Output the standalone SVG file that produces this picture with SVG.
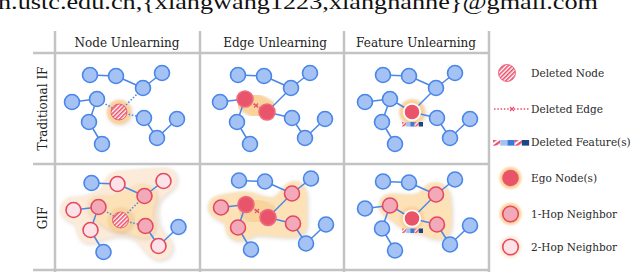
<svg xmlns="http://www.w3.org/2000/svg" width="640" height="276" viewBox="0 0 640 276">
<style>
.grid{stroke:#c3c3c3;stroke-width:2.5;fill:none}
.hdr{font-family:"DejaVu Serif",serif;font-size:12px;fill:#222;text-anchor:middle}
.lg{font-family:"DejaVu Serif",serif;font-size:10.5px;fill:#2a2a2a}
.e{stroke:#4a86e8;stroke-width:1.5;fill:none}
.ed{stroke:#4a86e8;stroke-width:1.5;stroke-dasharray:1.5 1.8;fill:none}
.er{stroke:#ea4f6a;stroke-width:1.5;stroke-dasharray:1.5 1.8;fill:none}
.ex{stroke:#ea4f6a;stroke-width:1.1;fill:none}
.nb{fill:#a4c2f4;stroke:#4a86e8;stroke-width:1.6}
.ne{fill:#e9546b;stroke:#ee6a80;stroke-width:1.6}
.new{fill:#e9546b;stroke:#ffffff;stroke-width:1.8}
.n1{fill:#f3aab8;stroke:#e44862;stroke-width:1.6}
.n2{fill:#fde3e8;stroke:#e44862;stroke-width:1.6}
.nd{fill:url(#hatch);stroke:#ea4f6a;stroke-width:0.8}
.halo{fill:#fad39a}
.blob1{fill:#fde2b8}
.blob2{fill:#fdebd9}
</style>
<defs>
<pattern id="hatch" width="3" height="3" patternUnits="userSpaceOnUse" patternTransform="rotate(45)">
<rect width="3" height="3" fill="#ffffff"/><rect width="1.6" height="3" fill="#ea4f6a"/>
</pattern>
<filter id="soft" x="-30%" y="-30%" width="160%" height="160%">
<feGaussianBlur in="SourceAlpha" stdDeviation="2"/>
<feOffset dx="0.8" dy="1.2" result="b"/>
<feFlood flood-color="#8a7a6a" flood-opacity="0.35"/>
<feComposite in2="b" operator="in" result="sh"/>
<feGaussianBlur in="SourceGraphic" stdDeviation="0.8" result="s"/>
<feMerge><feMergeNode in="sh"/><feMergeNode in="s"/></feMerge>
</filter>
<filter id="glow" x="-40%" y="-40%" width="180%" height="180%">
<feGaussianBlur stdDeviation="0.9"/>
</filter>
<g id="fbar">
<rect x="0" y="0" width="4.2" height="4.5" fill="url(#hatch)"/>
<rect x="4.2" y="0" width="4.2" height="4.5" fill="#a4c2f4"/>
<rect x="8.4" y="0" width="4.2" height="4.5" fill="#3c78d8"/>
<rect x="12.6" y="0" width="4.2" height="4.5" fill="url(#hatch)"/>
<rect x="16.8" y="0" width="4.2" height="4.5" fill="#1c4587"/>
</g>
</defs>

<text x="-2" y="9" font-family="Liberation Serif,serif" font-size="21" fill="#111" textLength="600" lengthAdjust="spacingAndGlyphs">n.ustc.edu.cn,{xiangwang1223,xiangnanhe}@gmail.com</text>

<g id="grid">
<line class="grid" x1="33" y1="53" x2="489" y2="53"/>
<line class="grid" x1="33" y1="164" x2="489" y2="164"/>
<line class="grid" x1="33" y1="270" x2="489" y2="270"/>
<line class="grid" x1="55" y1="31" x2="55" y2="272"/>
<line class="grid" x1="200" y1="31" x2="200" y2="272"/>
<line class="grid" x1="344" y1="31" x2="344" y2="272"/>
<line class="grid" x1="489" y1="31" x2="489" y2="272"/>
</g>

<g id="headers">
<text class="hdr" x="127" y="47">Node Unlearning</text>
<text class="hdr" x="275" y="47">Edge Unlearning</text>
<text class="hdr" x="416" y="47">Feature Unlearning</text>
<text class="hdr" transform="translate(46.5,108.5) rotate(-90)">Traditional IF</text>
<text class="hdr" transform="translate(46.5,218) rotate(-90)">GIF</text>
</g>

<!-- Top-left: Traditional IF, node unlearning -->
<g id="tl" transform="translate(0,0)">
<circle cx="119" cy="112" r="12" class="halo" filter="url(#soft)"/>
<g id="tl-connectors">
<line class="e" x1="90" y1="75" x2="116" y2="76"/>
<line class="e" x1="116" y1="76" x2="143" y2="88"/>
<line class="e" x1="143" y1="88" x2="162" y2="73"/>
<line class="e" x1="72" y1="102" x2="97" y2="99"/>
<line class="e" x1="97" y1="99" x2="89" y2="122"/>
<line class="e" x1="89" y1="122" x2="102" y2="144"/>
<line class="e" x1="144" y1="118" x2="157" y2="138"/>
<line class="e" x1="157" y1="138" x2="177" y2="119"/>
<line class="ed" x1="97" y1="99" x2="119" y2="112"/>
<line class="ed" x1="119" y1="112" x2="143" y2="88"/>
<line class="ed" x1="119" y1="112" x2="144" y2="118"/>
</g>
<g id="tl-n1"><circle class="nb" cx="90" cy="75" r="7.5"/></g>
<g id="tl-n2"><circle class="nb" cx="116" cy="76" r="7.5"/></g>
<g id="tl-n3"><circle class="nb" cx="162" cy="73" r="7.5"/></g>
<g id="tl-n4"><circle class="nb" cx="143" cy="88" r="7.5"/></g>
<g id="tl-n5"><circle class="nb" cx="72" cy="102" r="7.5"/></g>
<g id="tl-n6"><circle class="nb" cx="97" cy="99" r="7.5"/></g>
<g id="tl-n7"><circle class="nd" cx="119" cy="112" r="8"/></g>
<g id="tl-n8"><circle class="nb" cx="144" cy="118" r="7.5"/></g>
<g id="tl-n9"><circle class="nb" cx="89" cy="122" r="7.5"/></g>
<g id="tl-n10"><circle class="nb" cx="177" cy="119" r="7.5"/></g>
<g id="tl-n11"><circle class="nb" cx="157" cy="138" r="7.5"/></g>
<g id="tl-n12"><circle class="nb" cx="102" cy="144" r="7.5"/></g>
</g>

<!-- Top-middle: Traditional IF, edge unlearning -->
<g id="tm" transform="translate(148,0)">
<line x1="97" y1="99" x2="119" y2="112" stroke="#fad39a" stroke-width="23" stroke-linecap="round" filter="url(#soft)"/>
<g id="tm-connectors">
<line class="e" x1="90" y1="75" x2="116" y2="76"/>
<line class="e" x1="116" y1="76" x2="143" y2="88"/>
<line class="e" x1="143" y1="88" x2="162" y2="73"/>
<line class="e" x1="72" y1="102" x2="97" y2="99"/>
<line class="e" x1="97" y1="99" x2="89" y2="122"/>
<line class="e" x1="89" y1="122" x2="102" y2="144"/>
<line class="e" x1="144" y1="118" x2="157" y2="138"/>
<line class="e" x1="157" y1="138" x2="177" y2="119"/>
<line class="e" x1="119" y1="112" x2="143" y2="88"/>
<line class="e" x1="119" y1="112" x2="144" y2="118"/>
<line class="er" x1="97" y1="99" x2="119" y2="112"/>
<path class="ex" d="M106 103.5L110 107.5M110 103.5L106 107.5"/>
</g>
<g id="tm-n1"><circle class="nb" cx="90" cy="75" r="7.5"/></g>
<g id="tm-n2"><circle class="nb" cx="116" cy="76" r="7.5"/></g>
<g id="tm-n3"><circle class="nb" cx="162" cy="73" r="7.5"/></g>
<g id="tm-n4"><circle class="nb" cx="143" cy="88" r="7.5"/></g>
<g id="tm-n5"><circle class="nb" cx="72" cy="102" r="7.5"/></g>
<g id="tm-n6"><circle class="ne" cx="97" cy="99" r="8"/></g>
<g id="tm-n7"><circle class="ne" cx="119" cy="112" r="8"/></g>
<g id="tm-n8"><circle class="nb" cx="144" cy="118" r="7.5"/></g>
<g id="tm-n9"><circle class="nb" cx="89" cy="122" r="7.5"/></g>
<g id="tm-n10"><circle class="nb" cx="177" cy="119" r="7.5"/></g>
<g id="tm-n11"><circle class="nb" cx="157" cy="138" r="7.5"/></g>
<g id="tm-n12"><circle class="nb" cx="102" cy="144" r="7.5"/></g>
</g>

<!-- Top-right: Traditional IF, feature unlearning -->
<g id="tr" transform="translate(293,0)">
<circle cx="119" cy="112" r="12.5" class="halo" filter="url(#soft)"/>
<g id="tr-connectors">
<line class="e" x1="90" y1="75" x2="116" y2="76"/>
<line class="e" x1="116" y1="76" x2="143" y2="88"/>
<line class="e" x1="143" y1="88" x2="162" y2="73"/>
<line class="e" x1="72" y1="102" x2="97" y2="99"/>
<line class="e" x1="97" y1="99" x2="89" y2="122"/>
<line class="e" x1="89" y1="122" x2="102" y2="144"/>
<line class="e" x1="144" y1="118" x2="157" y2="138"/>
<line class="e" x1="157" y1="138" x2="177" y2="119"/>
<line class="e" x1="97" y1="99" x2="119" y2="112"/>
<line class="e" x1="119" y1="112" x2="143" y2="88"/>
<line class="e" x1="119" y1="112" x2="144" y2="118"/>
</g>
<g id="tr-n1"><circle class="nb" cx="90" cy="75" r="7.5"/></g>
<g id="tr-n2"><circle class="nb" cx="116" cy="76" r="7.5"/></g>
<g id="tr-n3"><circle class="nb" cx="162" cy="73" r="7.5"/></g>
<g id="tr-n4"><circle class="nb" cx="143" cy="88" r="7.5"/></g>
<g id="tr-n5"><circle class="nb" cx="72" cy="102" r="7.5"/></g>
<g id="tr-n6"><circle class="nb" cx="97" cy="99" r="7.5"/></g>
<g id="tr-n7"><circle class="new" cx="119" cy="112" r="8.2"/><use href="#fbar" x="109" y="122"/></g>
<g id="tr-n8"><circle class="nb" cx="144" cy="118" r="7.5"/></g>
<g id="tr-n9"><circle class="nb" cx="89" cy="122" r="7.5"/></g>
<g id="tr-n10"><circle class="nb" cx="177" cy="119" r="7.5"/></g>
<g id="tr-n11"><circle class="nb" cx="157" cy="138" r="7.5"/></g>
<g id="tr-n12"><circle class="nb" cx="102" cy="144" r="7.5"/></g>
</g>

<!-- Bottom-left: GIF, node unlearning -->
<g id="bl" transform="translate(1.5,108)">
<path class="blob2" filter="url(#soft)" d="M59 102C59 94 65 89 72 89C82 89 90 86 100 80C104 68 110 63 118 63C130 63 145 60 162 60C171 60 176 66 175 74C174 82 162 86 158 94C155 102 156 112 160 122C165 128 171 132 171 139C171 148 164 152 157 152C148 152 142 140 134 132C125 126 110 128 100 132C94 136 88 136 82 134C75 130 76 120 72 115C64 113 59 108 59 102Z"/>
<path class="blob1" filter="url(#soft)" d="M86 99C86 91 92 87 99 88C110 90 122 84 134 78C144 74 155 80 155 88C155 96 150 102 152 110C156 120 152 130 143 130C134 130 128 124 118 124C108 124 86 110 86 99Z"/>
<circle cx="119" cy="112" r="12" class="halo" filter="url(#soft)"/>
<g id="bl-connectors">
<line class="e" x1="90" y1="75" x2="116" y2="76"/>
<line class="e" x1="116" y1="76" x2="143" y2="88"/>
<line class="e" x1="143" y1="88" x2="162" y2="73"/>
<line class="e" x1="72" y1="102" x2="97" y2="99"/>
<line class="e" x1="97" y1="99" x2="89" y2="122"/>
<line class="e" x1="89" y1="122" x2="102" y2="144"/>
<line class="e" x1="144" y1="118" x2="157" y2="138"/>
<line class="e" x1="157" y1="138" x2="177" y2="119"/>
<line class="ed" x1="97" y1="99" x2="119" y2="112"/>
<line class="ed" x1="119" y1="112" x2="143" y2="88"/>
<line class="ed" x1="119" y1="112" x2="144" y2="118"/>
</g>
<g id="bl-n1"><circle class="nb" cx="90" cy="75" r="7.5"/></g>
<g id="bl-n2"><circle class="n2" cx="116" cy="76" r="7.5"/></g>
<g id="bl-n3"><circle class="n2" cx="162" cy="73" r="7.5"/></g>
<g id="bl-n4"><circle class="n1" cx="143" cy="88" r="7.5"/></g>
<g id="bl-n5"><circle class="n2" cx="72" cy="102" r="7.5"/></g>
<g id="bl-n6"><circle class="n1" cx="97" cy="99" r="7.5"/></g>
<g id="bl-n7"><circle class="nd" cx="119" cy="112" r="8"/></g>
<g id="bl-n8"><circle class="n1" cx="144" cy="118" r="7.5"/></g>
<g id="bl-n9"><circle class="n2" cx="89" cy="122" r="7.5"/></g>
<g id="bl-n10"><circle class="nb" cx="177" cy="119" r="7.5"/></g>
<g id="bl-n11"><circle class="n2" cx="157" cy="138" r="7.5"/></g>
<g id="bl-n12"><circle class="nb" cx="102" cy="144" r="7.5"/></g>
</g>

<!-- Bottom-middle: GIF, edge unlearning -->
<g id="bm" transform="translate(149,105.5)">
<path class="blob1" filter="url(#soft)" d="M59 102C59 94 65 90 74 89C82 88 88 86 96 86C104 86 112 92 122 92C130 92 132 80 142 76C152 74 158 82 158 92C158 102 158 110 158 118C158 127 152 132 144 132C130 132 118 130 106 130C100 134 94 136 88 135C78 134 76 124 76 118C68 114 59 110 59 102Z"/>
<line x1="97" y1="99" x2="119" y2="112" stroke="#fad39a" stroke-width="23" stroke-linecap="round" filter="url(#soft)"/>
<g id="bm-connectors">
<line class="e" x1="90" y1="75" x2="116" y2="76"/>
<line class="e" x1="116" y1="76" x2="143" y2="88"/>
<line class="e" x1="143" y1="88" x2="162" y2="73"/>
<line class="e" x1="72" y1="102" x2="97" y2="99"/>
<line class="e" x1="97" y1="99" x2="89" y2="122"/>
<line class="e" x1="89" y1="122" x2="102" y2="144"/>
<line class="e" x1="144" y1="118" x2="157" y2="138"/>
<line class="e" x1="157" y1="138" x2="177" y2="119"/>
<line class="e" x1="119" y1="112" x2="143" y2="88"/>
<line class="e" x1="119" y1="112" x2="144" y2="118"/>
<line class="er" x1="97" y1="99" x2="119" y2="112"/>
<path class="ex" d="M106 103.5L110 107.5M110 103.5L106 107.5"/>
</g>
<g id="bm-n1"><circle class="nb" cx="90" cy="75" r="7.5"/></g>
<g id="bm-n2"><circle class="nb" cx="116" cy="76" r="7.5"/></g>
<g id="bm-n3"><circle class="nb" cx="162" cy="73" r="7.5"/></g>
<g id="bm-n4"><circle class="n1" cx="143" cy="88" r="7.5"/></g>
<g id="bm-n5"><circle class="n1" cx="72" cy="102" r="7.5"/></g>
<g id="bm-n6"><circle class="ne" cx="97" cy="99" r="8"/></g>
<g id="bm-n7"><circle class="ne" cx="119" cy="112" r="8"/></g>
<g id="bm-n8"><circle class="n1" cx="144" cy="118" r="7.5"/></g>
<g id="bm-n9"><circle class="n1" cx="89" cy="122" r="7.5"/></g>
<g id="bm-n10"><circle class="nb" cx="177" cy="119" r="7.5"/></g>
<g id="bm-n11"><circle class="nb" cx="157" cy="138" r="7.5"/></g>
<g id="bm-n12"><circle class="nb" cx="102" cy="144" r="7.5"/></g>
</g>

<!-- Bottom-right: GIF, feature unlearning -->
<g id="br" transform="translate(293,106.5)">
<path class="blob1" filter="url(#soft)" d="M86 99C86 91 92 87 99 87C110 87 118 90 126 86C132 80 134 76 143 76C152 76 157 84 158 94C159 106 160 120 156 128C152 134 142 134 134 130C126 126 118 126 110 122C102 118 98 112 92 110C88 106 86 103 86 99Z"/>
<circle cx="119" cy="112" r="12" class="halo" filter="url(#glow)"/>
<g id="br-connectors">
<line class="e" x1="90" y1="75" x2="116" y2="76"/>
<line class="e" x1="116" y1="76" x2="143" y2="88"/>
<line class="e" x1="143" y1="88" x2="162" y2="73"/>
<line class="e" x1="72" y1="102" x2="97" y2="99"/>
<line class="e" x1="97" y1="99" x2="89" y2="122"/>
<line class="e" x1="89" y1="122" x2="102" y2="144"/>
<line class="e" x1="144" y1="118" x2="157" y2="138"/>
<line class="e" x1="157" y1="138" x2="177" y2="119"/>
<line class="e" x1="97" y1="99" x2="119" y2="112"/>
<line class="e" x1="119" y1="112" x2="143" y2="88"/>
<line class="e" x1="119" y1="112" x2="144" y2="118"/>
</g>
<g id="br-n1"><circle class="nb" cx="90" cy="75" r="7.5"/></g>
<g id="br-n2"><circle class="nb" cx="116" cy="76" r="7.5"/></g>
<g id="br-n3"><circle class="nb" cx="162" cy="73" r="7.5"/></g>
<g id="br-n4"><circle class="n1" cx="143" cy="88" r="7.5"/></g>
<g id="br-n5"><circle class="nb" cx="72" cy="102" r="7.5"/></g>
<g id="br-n6"><circle class="n1" cx="97" cy="99" r="7.5"/></g>
<g id="br-n7"><circle class="new" cx="119" cy="112" r="8.2"/><use href="#fbar" x="109" y="122"/></g>
<g id="br-n8"><circle class="n1" cx="144" cy="118" r="7.5"/></g>
<g id="br-n9"><circle class="nb" cx="89" cy="122" r="7.5"/></g>
<g id="br-n10"><circle class="nb" cx="177" cy="119" r="7.5"/></g>
<g id="br-n11"><circle class="nb" cx="157" cy="138" r="7.5"/></g>
<g id="br-n12"><circle class="nb" cx="102" cy="144" r="7.5"/></g>
</g>

<!-- Legend -->
<g id="legend">
<g id="lg-deleted-node"><circle class="nd" cx="507" cy="73" r="8.5"/><text class="lg" x="531" y="77">Deleted Node</text></g>
<g id="lg-deleted-edge"><line class="er" x1="494" y1="109" x2="530" y2="109"/><path class="ex" d="M510 107L514 111M514 107L510 111"/><text class="lg" x="531" y="112.5">Deleted Edge</text></g>
<g id="lg-deleted-feature"><use href="#fbar" transform="translate(493,140) scale(1.72,1.25)"/><text class="lg" x="531" y="146">Deleted Feature(s)</text></g>
<g id="lg-ego"><circle cx="510.5" cy="178" r="11" class="halo" filter="url(#glow)"/><circle cx="510.5" cy="178" r="8.3" fill="#e9546b"/><text class="lg" x="531" y="182">Ego Node(s)</text></g>
<g id="lg-hop1"><circle cx="510.5" cy="214" r="11" class="halo" filter="url(#glow)"/><circle class="n1" cx="510.5" cy="214" r="7.8"/><text class="lg" x="531" y="218">1-Hop Neighbor</text></g>
<g id="lg-hop2"><circle cx="510.5" cy="247" r="11" fill="#fdebd9" filter="url(#glow)"/><circle class="n2" cx="510.5" cy="247" r="7.8"/><text class="lg" x="531" y="251">2-Hop Neighbor</text></g>
</g>
</svg>
